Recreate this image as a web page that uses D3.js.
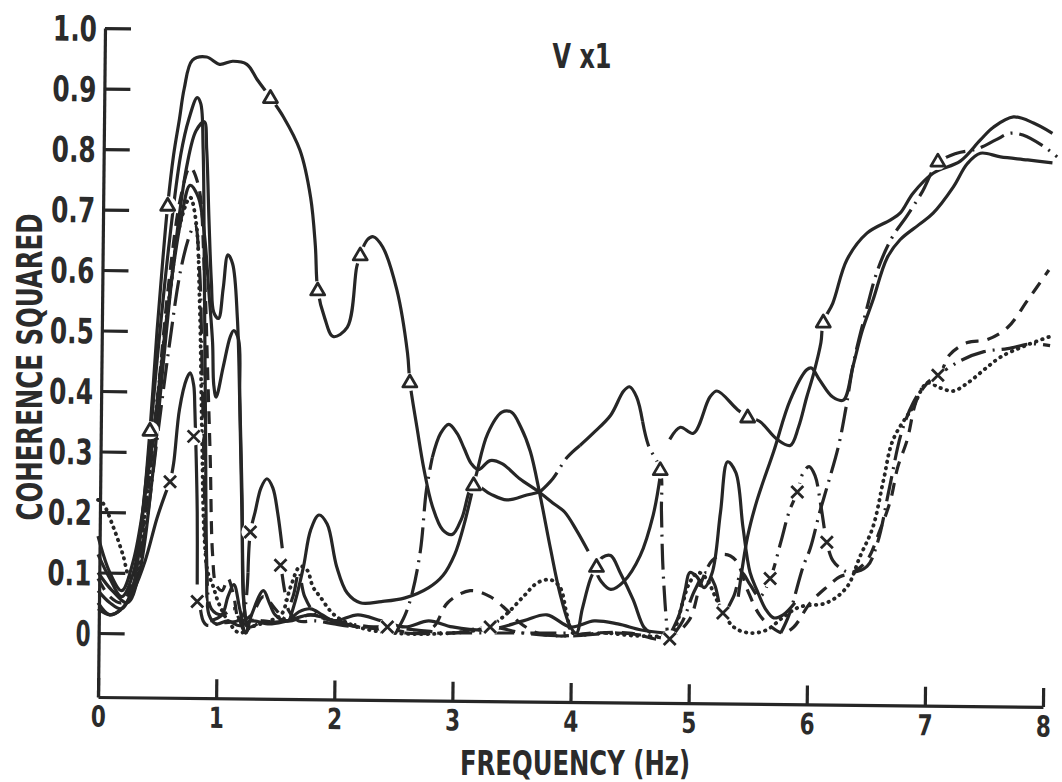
<!DOCTYPE html>
<html lang="en">
<head>
<meta charset="utf-8">
<script src="https://d3js.org/d3.v7.min.js"></script>
<title>V x1 coherence</title>
<style>
  body { margin: 0; background: #fff; }
  text { font-family: "DejaVu Sans Condensed", "DejaVu Sans", sans-serif; font-weight: bold; fill: #2b2b2b; }
</style>
</head>
<body>
<script>
// frequency (Hz), coherence squared
var triLeft = [[0,0.07],[0.1,0.05],[0.2,0.04],[0.3,0.08],[0.37,0.18],[0.44,0.335],[0.5,0.5],[0.55,0.62],[0.59,0.707],[0.64,0.79],[0.69,0.85],[0.73,0.9],[0.8,0.947],[0.92,0.952],[1.03,0.94],[1.14,0.945],[1.26,0.94],[1.35,0.914],[1.46,0.885],[1.57,0.853],[1.71,0.798],[1.8,0.72],[1.84,0.64],[1.86,0.567],[1.92,0.52],[1.99,0.49],[2.11,0.505],[2.19,0.605],[2.22,0.625],[2.28,0.65],[2.33,0.655],[2.41,0.638],[2.53,0.567],[2.62,0.463],[2.64,0.415],[2.7,0.34],[2.76,0.27],[2.83,0.21],[2.92,0.17],[3.0,0.163],[3.08,0.19],[3.18,0.245],[3.32,0.23],[3.46,0.22],[3.63,0.228],[3.74,0.233]];
var triMid = [[3.74,0.233],[3.85,0.255],[3.97,0.29],[4.08,0.31]];
var triTop = [[4.08,0.31],[4.19,0.33],[4.34,0.36],[4.45,0.40],[4.5,0.407],[4.56,0.39],[4.61,0.35]];
var triDrop = [[4.61,0.35],[4.66,0.31],[4.76,0.27],[4.77,0.2],[4.78,0.12],[4.8,0.05],[4.82,0.0]];
var triRight = [[4.84,0.32],[4.93,0.34],[5.04,0.33],[5.18,0.39],[5.24,0.40],[5.41,0.37],[5.5,0.357],[5.6,0.35],[5.75,0.32],[5.86,0.31],[5.93,0.34],[6.0,0.39],[6.06,0.43],[6.12,0.48],[6.14,0.514],[6.22,0.545],[6.34,0.617],[6.51,0.661],[6.71,0.683],[6.79,0.694],[6.9,0.727],[7.07,0.76],[7.3,0.78],[7.47,0.815],[7.58,0.836],[7.75,0.853],[7.92,0.843],[8.08,0.826]];

var peakRise = [[2.52,0.0],[2.6,0.03],[2.66,0.066],[2.73,0.137],[2.78,0.236],[2.83,0.29]];
var peakB = [[2.83,0.29],[2.9,0.33],[2.97,0.345],[3.04,0.33],[3.1,0.305],[3.16,0.28],[3.22,0.27],[3.32,0.285],[3.42,0.28],[3.57,0.255],[3.72,0.235],[3.85,0.215],[3.95,0.2],[4.05,0.17],[4.15,0.135]];
var humpD = [[1.62,0.02],[1.68,0.06],[1.74,0.11],[1.8,0.17],[1.87,0.195],[1.94,0.18],[2.02,0.11],[2.11,0.066],[2.22,0.05],[2.4,0.052],[2.6,0.058],[2.8,0.075],[2.92,0.095],[3.02,0.13],[3.1,0.18],[3.2,0.26],[3.3,0.33],[3.42,0.365],[3.5,0.365],[3.58,0.34],[3.66,0.30],[3.74,0.23],[3.83,0.14],[3.91,0.066],[4.0,0.01],[4.05,0.0],[4.1,0.04],[4.17,0.09],[4.22,0.11],[4.27,0.125],[4.34,0.128],[4.42,0.1],[4.53,0.055],[4.62,0.01],[4.68,0.0]];
var uCurve = [[4.2,0.11],[4.26,0.085],[4.34,0.072],[4.45,0.085],[4.59,0.128],[4.7,0.195],[4.76,0.26]];

var hInner = [[5.42,0.06],[5.5,0.16],[5.58,0.22],[5.72,0.30],[5.86,0.385],[6.0,0.435],[6.04,0.438],[6.11,0.418],[6.22,0.39],[6.31,0.385],[6.39,0.44],[6.47,0.5],[6.56,0.55],[6.68,0.62],[6.79,0.65],[6.95,0.675],[7.07,0.694],[7.24,0.737],[7.36,0.776],[7.47,0.793],[7.64,0.787],[7.87,0.782],[8.08,0.777]];
var gRight = [[5.78,0.0],[5.85,0.03],[5.97,0.11],[6.03,0.14],[6.11,0.2],[6.17,0.24],[6.27,0.31],[6.33,0.37],[6.4,0.45],[6.5,0.53],[6.6,0.6],[6.72,0.653],[6.85,0.69],[6.98,0.73],[7.11,0.777],[7.27,0.793],[7.44,0.80],[7.6,0.815],[7.72,0.826],[7.83,0.823],[8.0,0.805],[8.12,0.787]];
var peak53 = [[4.85,0.0],[4.92,0.03],[4.97,0.07],[5.01,0.1],[5.07,0.093],[5.13,0.075],[5.2,0.1],[5.27,0.2],[5.33,0.283],[5.4,0.265],[5.46,0.175],[5.52,0.1],[5.58,0.07],[5.65,0.04],[5.72,0.025],[5.8,0.03],[5.9,0.05]];

var xRise = [[0,0.05],[0.1,0.03],[0.2,0.04],[0.3,0.07],[0.4,0.12],[0.5,0.19],[0.57,0.23],[0.61,0.25],[0.64,0.28],[0.69,0.37],[0.75,0.42],[0.78,0.43],[0.81,0.41],[0.82,0.37],[0.83,0.3],[0.84,0.2],[0.84,0.08]];
var xLow1 = [[0.86,0.05],[0.89,0.02],[0.92,0.013],[1.06,0.017],[1.18,0.02],[1.23,0.03],[1.27,0.1]];
var xHump = [[1.27,0.1],[1.29,0.167],[1.33,0.2],[1.38,0.24],[1.43,0.255],[1.48,0.24],[1.52,0.2],[1.56,0.14]];
var xLow2 = [[1.55,0.11],[1.58,0.07],[1.62,0.035],[1.7,0.02],[1.85,0.02],[2.0,0.015],[2.2,0.01],[2.45,0.01],[2.7,0.005],[3.0,0.0],[3.32,0.01],[3.6,0.0],[4.0,-0.005],[4.4,0.0],[4.84,-0.01]];
var xRight = [[4.84,-0.01],[4.95,0.02],[5.05,0.07],[5.15,0.1],[5.22,0.08],[5.29,0.033],[5.38,0.06],[5.45,0.1],[5.52,0.08],[5.6,0.06],[5.69,0.09],[5.78,0.15],[5.85,0.2],[5.92,0.233],[5.97,0.265],[6.02,0.275],[6.07,0.26],[6.12,0.21],[6.17,0.15],[6.22,0.12],[6.3,0.105],[6.37,0.1],[6.51,0.11],[6.6,0.15],[6.7,0.24],[6.8,0.33],[6.9,0.38],[7.0,0.41],[7.11,0.426],[7.3,0.45],[7.5,0.465],[7.7,0.47],[7.9,0.478],[8.06,0.475]];

var dashedAll = [[0,0.09],[0.1,0.06],[0.2,0.05],[0.3,0.09],[0.4,0.2],[0.5,0.38],[0.6,0.58],[0.7,0.72],[0.78,0.77],[0.85,0.74],[0.9,0.6],[0.93,0.42],[0.95,0.29],[0.97,0.13],[1.0,0.08],[1.05,0.07],[1.1,0.09],[1.15,0.06],[1.2,0.02],[1.3,0.03],[1.4,0.06],[1.5,0.04],[1.6,0.02],[1.8,0.03],[2.0,0.02],[2.2,0.01],[2.5,0.005],[2.7,0.0],[2.84,0.01],[2.96,0.05],[3.15,0.07],[3.32,0.06],[3.46,0.038],[3.57,0.017],[3.72,0.0],[3.91,-0.005],[4.2,0.0],[4.5,0.0],[4.8,-0.01],[5.0,0.02],[5.1,0.08],[5.2,0.12],[5.3,0.13],[5.4,0.12],[5.5,0.07],[5.6,0.03],[5.7,0.01],[5.8,0.0],[5.89,0.01],[6.03,0.05],[6.17,0.076],[6.28,0.093],[6.39,0.1],[6.51,0.12],[6.62,0.17],[6.71,0.22],[6.77,0.274],[6.85,0.319],[6.93,0.385],[7.02,0.413],[7.13,0.43],[7.21,0.46],[7.36,0.48],[7.53,0.485],[7.7,0.505],[7.87,0.55],[8.05,0.6]];
var dottedAll = [[0,0.22],[0.04,0.215],[0.13,0.175],[0.21,0.13],[0.27,0.093],[0.33,0.1],[0.4,0.2],[0.5,0.38],[0.6,0.55],[0.7,0.68],[0.78,0.72],[0.83,0.68],[0.86,0.55],[0.88,0.33],[0.9,0.16],[0.93,0.1],[0.97,0.08],[1.02,0.05],[1.1,0.02],[1.2,0.0],[1.3,0.01],[1.45,0.02],[1.55,0.03],[1.63,0.076],[1.71,0.11],[1.77,0.104],[1.82,0.076],[1.88,0.06],[2.0,0.03],[2.2,0.01],[2.5,0.0],[3.0,0.0],[3.3,0.01],[3.45,0.03],[3.6,0.06],[3.72,0.083],[3.83,0.088],[3.91,0.076],[3.97,0.03],[4.02,0.0],[4.3,0.0],[4.6,-0.005],[4.85,0.0],[4.95,0.05],[5.0,0.08],[5.08,0.1],[5.15,0.09],[5.25,0.05],[5.38,0.01],[5.52,0.0],[5.66,0.005],[5.8,0.026],[5.94,0.043],[6.17,0.05],[6.34,0.076],[6.45,0.126],[6.56,0.175],[6.65,0.253],[6.73,0.319],[6.9,0.374],[7.02,0.413],[7.13,0.405],[7.24,0.40],[7.36,0.413],[7.5,0.435],[7.64,0.456],[7.85,0.475],[8.06,0.49]];
var dashDotLeft = [[0,0.04],[0.1,0.03],[0.2,0.04],[0.3,0.08],[0.4,0.17],[0.5,0.32],[0.6,0.47],[0.7,0.6],[0.78,0.66],[0.82,0.675],[0.86,0.6],[0.88,0.45],[0.9,0.25],[0.92,0.1],[0.96,0.04],[1.05,0.03],[1.15,0.04],[1.2,0.02],[1.25,0.0],[1.3,0.02],[1.4,0.02],[1.55,0.02],[1.65,0.06],[1.7,0.1],[1.75,0.06],[1.85,0.03],[2.0,0.02],[2.3,0.01],[2.6,0.0],[3.0,0.0],[3.5,0.0],[4.0,0.0]];

var solidP1 = [[0,0.13],[0.1,0.09],[0.2,0.06],[0.3,0.1],[0.4,0.24],[0.5,0.45],[0.6,0.64],[0.7,0.79],[0.77,0.85],[0.84,0.885],[0.87,0.875],[0.89,0.8],[0.9,0.6],[0.91,0.35],[0.92,0.12],[0.94,0.03],[1.0,0.015],[1.1,0.02],[1.2,0.012],[1.3,0.02],[1.45,0.015],[1.6,0.02],[1.8,0.03],[2.0,0.02],[2.2,0.01]];
var solidP2 = [[0,0.1],[0.12,0.07],[0.25,0.05],[0.35,0.1],[0.45,0.24],[0.55,0.44],[0.65,0.63],[0.75,0.77],[0.83,0.83],[0.9,0.845],[0.92,0.8],[0.94,0.68],[0.96,0.58],[0.98,0.53],[1.02,0.52],[1.06,0.57],[1.1,0.625],[1.14,0.61],[1.18,0.52],[1.2,0.38],[1.22,0.18],[1.24,0.04],[1.27,0.01],[1.35,0.015]];
var solidQ = [[0,0.16],[0.1,0.1],[0.2,0.07],[0.3,0.12],[0.45,0.3],[0.6,0.55],[0.7,0.68],[0.78,0.74],[0.85,0.72],[0.9,0.66],[0.94,0.56],[0.97,0.48],[0.98,0.41],[1.0,0.39],[1.06,0.44],[1.12,0.49],[1.15,0.5],[1.19,0.485],[1.2,0.39],[1.22,0.22],[1.23,0.06],[1.26,0.01]];
var noiseLow = [[0.95,0.02],[1.05,0.03],[1.1,0.06],[1.15,0.08],[1.2,0.04],[1.25,0.0],[1.3,0.03],[1.4,0.07],[1.45,0.05],[1.5,0.03],[1.6,0.02],[1.7,0.035],[1.8,0.04],[1.9,0.03],[2.0,0.02],[2.2,0.03],[2.4,0.02],[2.6,0.01],[2.8,0.02],[3.0,0.01],[3.3,0.005],[3.6,0.02],[3.8,0.03],[4.0,0.01],[4.2,0.02],[4.4,0.015],[4.6,0.005],[4.8,0.0]];

var triMarks = [[0.44,0.335],[0.59,0.707],[1.46,0.885],[1.86,0.567],[2.22,0.625],[2.64,0.415],[3.18,0.245],[4.22,0.11],[4.76,0.27],[5.5,0.357],[6.14,0.514],[7.11,0.78]];
var xMarks = [[0.61,0.25],[0.81,0.325],[0.84,0.052],[1.29,0.167],[1.545,0.112],[2.45,0.01],[3.32,0.01],[4.84,-0.01],[5.29,0.033],[5.69,0.09],[5.92,0.233],[6.17,0.15],[7.11,0.426]];

var yTicks = [0,0.1,0.2,0.3,0.4,0.5,0.6,0.7,0.8,0.9,1.0];
var xTicks = [0,1,2,3,4,5,6,7,8];

var width = 1062, height = 782;
var svg = d3.select("body").append("svg").attr("width", width).attr("height", height);
svg.append("rect").attr("width", width).attr("height", height).attr("fill", "#fff");

var x = d3.scaleLinear().domain([0, 8]).range([98, 1043]);
var y = d3.scaleLinear().domain([0, 1]).range([633, 28]);
var ink = "#262626";

// axes (the scan is turned a little clockwise)
var gAxes = svg.append("g").attr("transform", "rotate(0.6,98,697)");
var yAx = y.copy().domain([y.invert(697), 1]).range([697, 28]);
gAxes.append("g")
  .attr("transform", "translate(98,0)")
  .call(d3.axisLeft(yAx).tickValues(yTicks).tickSizeInner(-26).tickSizeOuter(0).tickPadding(8)
    .tickFormat(function(d) { return d === 0 ? "0" : d3.format(".1f")(d); }))
  .call(function(g) {
    g.attr("font-size", null).attr("font-family", null);
    g.selectAll("path, line").attr("stroke", ink).attr("stroke-width", 3.2);
    g.selectAll("text").style("font-size", "35px").attr("dy", "0.36em")
      .attr("textLength", function(d) { return d === 0 ? 15 : 44; })
      .attr("lengthAdjust", "spacingAndGlyphs");
  });
gAxes.append("g")
  .attr("transform", "translate(0,697)")
  .call(d3.axisBottom(x).tickValues(xTicks).tickSizeInner(-19).tickSizeOuter(0).tickPadding(9)
    .tickFormat(d3.format("d")))
  .call(function(g) {
    g.attr("font-size", null).attr("font-family", null);
    g.selectAll("path, line").attr("stroke", ink).attr("stroke-width", 3.2);
    g.selectAll("text").style("font-size", "29px")
      .attr("textLength", 15).attr("lengthAdjust", "spacingAndGlyphs");
  });

svg.append("text").attr("transform", "translate(42,367) rotate(-90)")
  .attr("text-anchor", "middle").style("font-size", "35px")
  .attr("textLength", 307).attr("lengthAdjust", "spacingAndGlyphs")
  .text("COHERENCE SQUARED");
svg.append("text").attr("x", 575).attr("y", 775)
  .attr("text-anchor", "middle").style("font-size", "33px")
  .attr("textLength", 230).attr("lengthAdjust", "spacingAndGlyphs")
  .text("FREQUENCY (Hz)");
svg.append("text").attr("x", 582).attr("y", 68)
  .attr("text-anchor", "middle").style("font-size", "33px")
  .attr("textLength", 59).attr("lengthAdjust", "spacingAndGlyphs")
  .text("V x1");

// curves
var dash = { solid: null, dashed: "13,9", dotted: "0.5,6", dashdot: "26,7,2,7" };
var curves = [
  [solidP1, "solid"], [solidP2, "solid"], [solidQ, "solid"], [noiseLow, "solid"],
  [dashedAll, "dashed"], [dottedAll, "dotted"], [dashDotLeft, "dashdot"],
  [triLeft, "solid"], [triMid, "dashdot"], [triTop, "solid"], [triDrop, "dashdot"], [triRight, "solid"],
  [peakRise, "dashdot"], [peakB, "solid"], [humpD, "solid"], [uCurve, "solid"],
  [hInner, "solid"], [gRight, "dashdot"], [peak53, "solid"],
  [xRise, "solid"], [xLow1, "dashdot"], [xHump, "solid"], [xLow2, "dashdot"], [xRight, "dashdot"]
];

var line = d3.line()
  .x(function(d) { return x(d[0]); })
  .y(function(d) { return y(d[1]); })
  .curve(d3.curveCatmullRom.alpha(0.5));

var gLines = svg.append("g");
gLines.selectAll("path")
  .data(curves)
  .enter()
  .append("path")
  .attr("d", function(d) { return line(d[0]); })
  .attr("fill", "none")
  .attr("stroke", ink)
  .attr("stroke-width", function(d) { return d[1] === "dotted" ? 3.8 : 3.2; })
  .attr("stroke-linecap", function(d) { return d[1] === "dotted" ? "round" : "butt"; })
  .attr("stroke-linejoin", "round")
  .attr("stroke-dasharray", function(d) { return dash[d[1]]; });

// markers break the lines they sit on
var gMarks = svg.append("g");
gMarks.selectAll(".halo")
  .data(triMarks.concat(xMarks))
  .enter()
  .append("circle")
  .attr("cx", function(d) { return x(d[0]); })
  .attr("cy", function(d) { return y(d[1]); })
  .attr("r", 9)
  .attr("fill", "#fff");

gMarks.selectAll(".tri")
  .data(triMarks)
  .enter()
  .append("path")
  .attr("transform", function(d) { return "translate(" + x(d[0]) + "," + y(d[1]) + ")"; })
  .attr("d", "M0,-7L7,5L-7,5Z")
  .attr("fill", "#fff")
  .attr("stroke", ink)
  .attr("stroke-width", 2.8)
  .attr("stroke-linejoin", "round");

gMarks.selectAll(".cross")
  .data(xMarks)
  .enter()
  .append("path")
  .attr("transform", function(d) { return "translate(" + x(d[0]) + "," + y(d[1]) + ")"; })
  .attr("d", "M-6,-6L6,6M6,-6L-6,6")
  .attr("fill", "none")
  .attr("stroke", ink)
  .attr("stroke-width", 2.8);
</script>
</body>
</html>
